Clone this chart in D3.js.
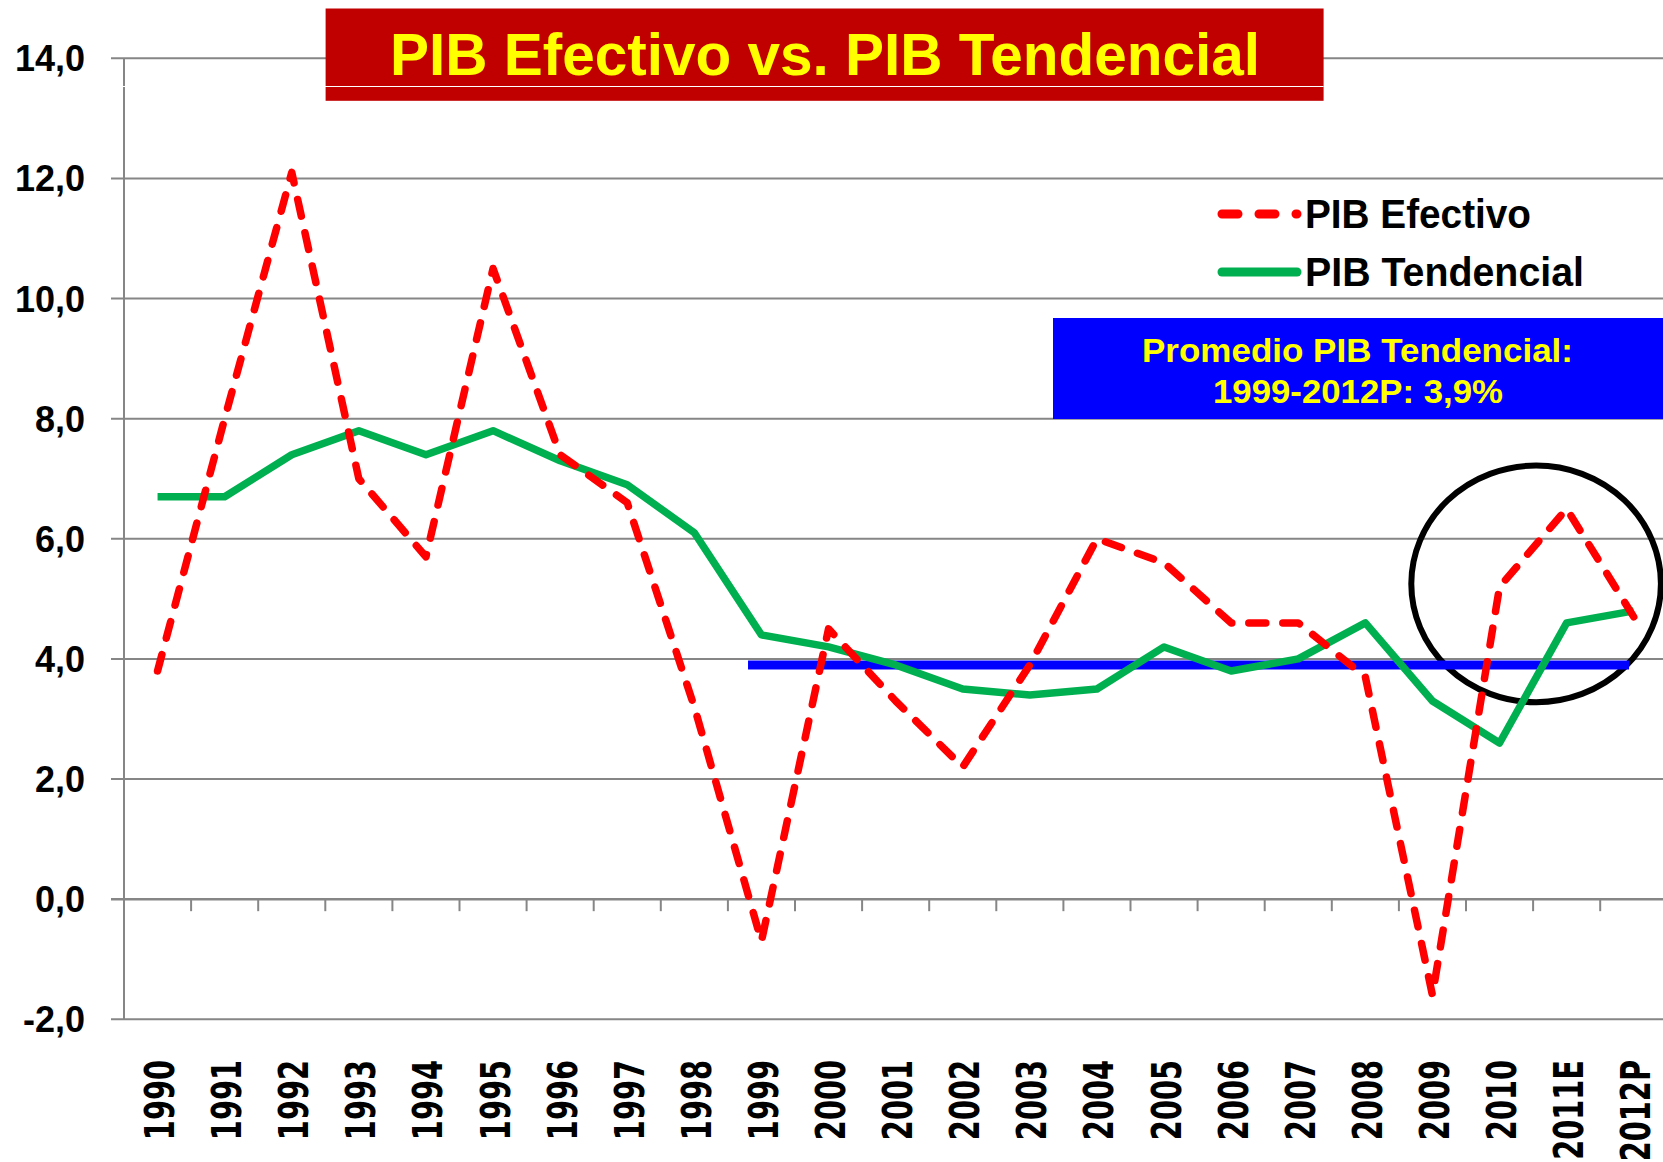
<!DOCTYPE html>
<html>
<head>
<meta charset="utf-8">
<script src="https://cdn.jsdelivr.net/npm/d3@7"></script>
<style>
  html, body { margin: 0; padding: 0; background: #fff; }
  svg { display: block; }
</style>
</head>
<body>
<svg id="chart" width="1663" height="1162"></svg>
<script>
// ---------------- DATA ----------------
const categories = ["1990","1991","1992","1993","1994","1995","1996","1997","1998","1999",
  "2000","2001","2002","2003","2004","2005","2006","2007","2008","2009","2010","2011E","2012P"];
const pibEfectivo = [3.8, 8.0, 12.1, 7.0, 5.7, 10.5, 7.4, 6.6, 3.2, -0.7,
  4.5, 3.3, 2.2, 3.9, 6.0, 5.6, 4.6, 4.6, 3.7, -1.6, 5.2, 6.5, 4.7];
const pibTendencial = [6.7, 6.7, 7.4, 7.8, 7.4, 7.8, 7.3, 6.9, 6.1, 4.4,
  4.2, 3.9, 3.5, 3.4, 3.5, 4.2, 3.8, 4.0, 4.6, 3.3, 2.6, 4.6, 4.8];
const yTicks = [-2, 0, 2, 4, 6, 8, 10, 12, 14];
const seriesNames = ["PIB Efectivo", "PIB Tendencial"];
const titleText = "PIB Efectivo vs. PIB Tendencial";
const promedioLines = ["Promedio PIB Tendencial:", "1999-2012P: 3,9%"];
const promedioValue = 3.9;
const promedioFrom = "1999", promedioTo = "2012P";
const circleCenterCat = "2011E", circleCenterValue = 5.25, circleRadiusValue = 1.97;

// ---------------- LAYOUT ----------------
const svg = d3.select("#chart");
const plotLeft = 124, plotTop = 58.3, plotBottom = 1019.3, plotRight = 1667.3;
const GRID = "#868686";

const x = d3.scaleBand().domain(categories).range([plotLeft, plotRight]).padding(0);
const y = d3.scaleLinear().domain([-2, 14]).range([plotBottom, plotTop]);
const bw = x.bandwidth();
const cx = c => x(c) + bw / 2;

// gridlines (with outer ticks)
svg.append("g").selectAll("line").data(yTicks).join("line")
  .attr("x1", plotLeft - 13).attr("x2", 1663)
  .attr("y1", d => y(d)).attr("y2", d => y(d))
  .attr("stroke", GRID).attr("stroke-width", d => d === 0 ? 2.6 : 2);

// y axis line
svg.append("line").attr("x1", plotLeft).attr("x2", plotLeft)
  .attr("y1", y(14)).attr("y2", y(-2)).attr("stroke", GRID).attr("stroke-width", 2);

// x ticks at band boundaries on the zero line
svg.append("g").selectAll("line").data(categories.slice(1)).join("line")
  .attr("x1", d => x(d)).attr("x2", d => x(d))
  .attr("y1", y(0)).attr("y2", y(0) + 12)
  .attr("stroke", GRID).attr("stroke-width", 2);

// y tick labels
svg.append("g").selectAll("text").data(yTicks).join("text")
  .attr("x", 85).attr("y", d => y(d)).attr("dy", "0.36em")
  .attr("text-anchor", "end")
  .attr("font-family", "Liberation Sans, Arial, sans-serif")
  .attr("font-weight", "bold").attr("font-size", 36)
  .attr("fill", "#000")
  .text(d => d3.format(".1f")(d).replace(".", ",").replace("−", "-"));

// x labels (rotated)
svg.append("g").selectAll("text").data(categories).join("text")
  .attr("transform", d => `translate(${cx(d) + 2},1060) rotate(-90) scale(0.72,1)`)
  .attr("y", 14.5)
  .attr("text-anchor", "end")
  .attr("font-family", "DejaVu Sans, sans-serif")
  .attr("font-weight", "bold").attr("font-size", 40)
  .attr("fill", "#000")
  .text(d => d);

// circle annotation
svg.append("ellipse")
  .attr("cx", x(circleCenterCat) + 3)
  .attr("cy", y(circleCenterValue))
  .attr("rx", bw * 1.86)
  .attr("ry", y(0) - y(circleRadiusValue))
  .attr("fill", "none").attr("stroke", "#000").attr("stroke-width", 6);

// average line
svg.append("line")
  .attr("x1", x(promedioFrom) + bw * 0.3)
  .attr("x2", x(promedioTo) + bw * 0.43)
  .attr("y1", y(promedioValue)).attr("y2", y(promedioValue))
  .attr("stroke", "#0000FF").attr("stroke-width", 9);

// series lines
const line = d3.line().x((d, i) => cx(categories[i])).y(d => y(d));
svg.append("path").datum(pibTendencial).attr("d", line)
  .attr("fill", "none").attr("stroke", "#00B050").attr("stroke-width", 7.5)
  .attr("stroke-linejoin", "round");
svg.append("path").datum(pibEfectivo).attr("d", line)
  .attr("fill", "none").attr("stroke", "#FF0000").attr("stroke-width", 7.5)
  .attr("stroke-dasharray", "17 17").attr("stroke-linecap", "round")
  .attr("stroke-linejoin", "round");

// legend
const legend = svg.append("g");
legend.append("line").attr("x1", 1222).attr("x2", 1297).attr("y1", 214).attr("y2", 214)
  .attr("stroke", "#FF0000").attr("stroke-width", 9).attr("stroke-linecap", "round")
  .attr("stroke-dasharray", "16 21");
legend.append("line").attr("x1", 1222).attr("x2", 1297).attr("y1", 272).attr("y2", 272)
  .attr("stroke", "#00B050").attr("stroke-width", 9).attr("stroke-linecap", "round");
legend.append("text").attr("x", 1305).attr("y", 228)
  .attr("font-family", "Liberation Sans, Arial, sans-serif").attr("font-weight", "bold")
  .attr("font-size", 40).attr("textLength", 226).attr("lengthAdjust", "spacingAndGlyphs")
  .text(seriesNames[0]);
legend.append("text").attr("x", 1305).attr("y", 286)
  .attr("font-family", "Liberation Sans, Arial, sans-serif").attr("font-weight", "bold")
  .attr("font-size", 40).attr("textLength", 279).attr("lengthAdjust", "spacingAndGlyphs")
  .text(seriesNames[1]);

// promedio box
svg.append("rect").attr("x", 1053).attr("y", 318).attr("width", 612).attr("height", 101)
  .attr("fill", "#0000FF");
svg.append("text").attr("x", 1357.5).attr("y", 362).attr("text-anchor", "middle")
  .attr("font-family", "Liberation Sans Narrow, Liberation Sans, Arial, sans-serif")
  .attr("font-weight", "bold").attr("font-size", 33).attr("fill", "#FFFF00")
  .attr("textLength", 431).attr("lengthAdjust", "spacingAndGlyphs")
  .text(promedioLines[0]);
svg.append("text").attr("x", 1358).attr("y", 403).attr("text-anchor", "middle")
  .attr("font-family", "Liberation Sans Narrow, Liberation Sans, Arial, sans-serif")
  .attr("font-weight", "bold").attr("font-size", 33).attr("fill", "#FFFF00")
  .attr("textLength", 290).attr("lengthAdjust", "spacingAndGlyphs")
  .text(promedioLines[1]);

// title box
svg.append("rect").attr("x", 325.6).attr("y", 8.5).attr("width", 998).attr("height", 92.3)
  .attr("fill", "#C00000");
svg.append("line").attr("x1", 118).attr("x2", 1323.6).attr("y1", 86.5).attr("y2", 86.5)
  .attr("stroke", "#fff").attr("stroke-width", 1.2);
svg.append("text").attr("x", 825).attr("y", 75).attr("text-anchor", "middle")
  .attr("font-family", "Liberation Sans Narrow, Liberation Sans, Arial, sans-serif")
  .attr("font-weight", "bold").attr("font-size", 58.5).attr("fill", "#FFFF00")
  .attr("textLength", 870).attr("lengthAdjust", "spacingAndGlyphs")
  .text(titleText);
</script>
</body>
</html>
